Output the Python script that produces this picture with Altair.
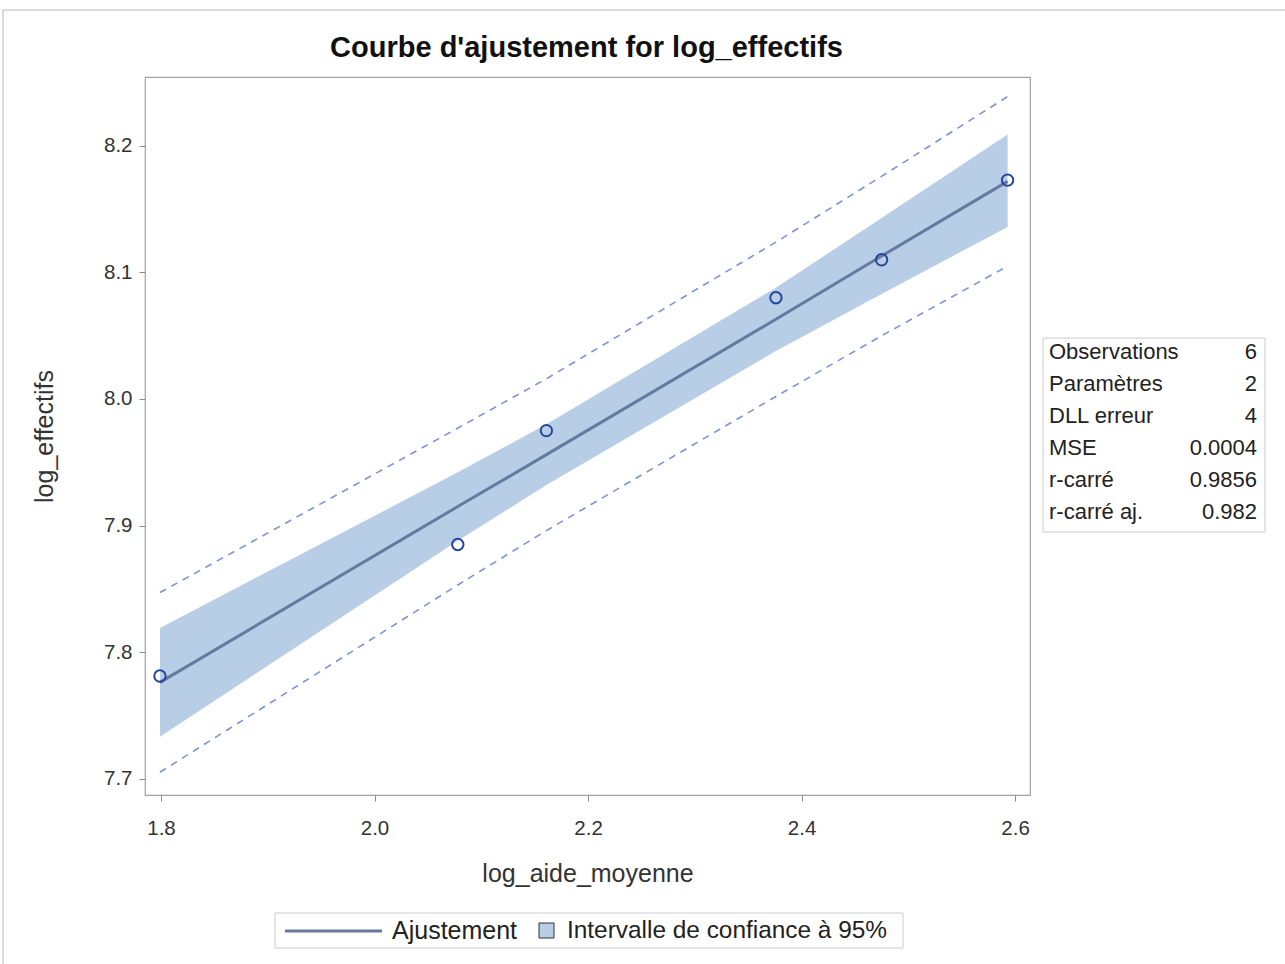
import altair as alt
import pandas as pd

# ---- data ----
obs_x = [1.799, 2.078, 2.161, 2.376, 2.475, 2.593]
obs_y = [7.781, 7.885, 7.975, 8.080, 8.110, 8.173]
fit_y = [7.776, 7.915, 7.956, 8.063, 8.113, 8.172]
clm_lo = [7.733, 7.888, 7.932, 8.038, 8.083, 8.136]
clm_hi = [7.819, 7.942, 7.980, 8.088, 8.143, 8.209]
pl_lo = [7.705, 7.853, 7.896, 8.002, 8.050, 8.105]
pl_hi = [7.847, 7.977, 8.016, 8.124, 8.176, 8.239]

x_ticks = [1.8, 2.0, 2.2, 2.4, 2.6]
y_ticks = [7.7, 7.8, 7.9, 8.0, 8.1, 8.2]

stat_labels = ["Observations", "Paramètres", "DLL erreur", "MSE", "r-carré", "r-carré aj."]
stat_values = ["6", "2", "4", "0.0004", "0.9856", "0.982"]

legend_labels = ["Ajustement", "Intervalle de confiance à 95%"]

title_text = "Courbe d'ajustement for log_effectifs"
x_title = "log_aide_moyenne"
y_title = "log_effectifs"

# ---- styles ----
FONT = "Liberation Sans"
BAND = "#b8cde6"
FIT = "#667a9f"
PL = "#7f92d6"
PT = "#2746a0"
TXT = "#222222"
W, H = 885, 718

df = pd.DataFrame({
    "x": obs_x, "y": obs_y, "fit": fit_y,
    "clm_lo": clm_lo, "clm_hi": clm_hi,
    "pl_lo": pl_lo, "pl_hi": pl_hi,
})

xs = alt.Scale(domain=[1.785, 2.614], nice=False, zero=False)
ys = alt.Scale(domain=[7.687, 8.2545], nice=False, zero=False)

xax = alt.Axis(values=x_ticks, format=".1f", title=x_title, grid=False, domain=False,
               tickSize=6, tickColor="#8c8c8c", labelPadding=17, titlePadding=23,
               labelFontSize=20.5, titleFontSize=25, labelColor="#333333", titleColor="#333333",
               labelFont=FONT, titleFont=FONT, titleFontWeight="normal")
yax = alt.Axis(values=y_ticks, format=".1f", title=y_title, grid=False, domain=False,
               tickSize=6, tickColor="#8c8c8c", labelPadding=7, titlePadding=46,
               labelFontSize=20.5, titleFontSize=25, labelColor="#333333", titleColor="#333333",
               labelFont=FONT, titleFont=FONT, titleFontWeight="normal")

base = alt.Chart(df)

band = base.mark_area(color=BAND, opacity=1).encode(
    x=alt.X("x:Q", scale=xs, axis=xax),
    y=alt.Y("clm_lo:Q", scale=ys, axis=yax),
    y2="clm_hi:Q",
)
fit = base.mark_line(color=FIT, strokeWidth=3).encode(x=alt.X("x:Q", scale=xs), y=alt.Y("fit:Q", scale=ys))
pl1 = base.mark_line(color=PL, strokeWidth=1.6, strokeDash=[7, 6]).encode(
    x=alt.X("x:Q", scale=xs), y=alt.Y("pl_lo:Q", scale=ys))
pl2 = base.mark_line(color=PL, strokeWidth=1.6, strokeDash=[7, 6]).encode(
    x=alt.X("x:Q", scale=xs), y=alt.Y("pl_hi:Q", scale=ys))
pts = base.mark_point(shape="circle", filled=False, color=PT, size=130, strokeWidth=2, opacity=1).encode(
    x=alt.X("x:Q", scale=xs), y=alt.Y("y:Q", scale=ys))

layers = [band, fit, pl1, pl2, pts]

one = pd.DataFrame({"a": [0]})

# ---- outer frame of the image ----
outer = alt.Chart(one).mark_rect(fill=None, stroke="#cfcfcf", strokeWidth=1.5).encode(
    x=alt.value(-142), x2=alt.value(1285 - 145 + 10), y=alt.value(-67), y2=alt.value(964 - 77 + 10))
layers.insert(0, outer)

# ---- title ----
title = alt.Chart(one).mark_text(align="center", baseline="middle", font=FONT, fontSize=29,
                                 fontWeight="bold", color="#111111", text=title_text).encode(
    x=alt.value(W / 2 - 1), y=alt.value(-29))
layers.append(title)

# ---- inset statistics table ----
tbl_box = alt.Chart(one).mark_rect(fill="white", stroke="#cccccc", strokeWidth=1).encode(
    x=alt.value(898), x2=alt.value(1120), y=alt.value(261), y2=alt.value(455))
layers.append(tbl_box)
for i, (lab, val) in enumerate(zip(stat_labels, stat_values)):
    yy = 275 + 32 * i
    layers.append(alt.Chart(one).mark_text(align="left", baseline="middle", font=FONT, fontSize=22,
                                           color=TXT, text=lab).encode(x=alt.value(904), y=alt.value(yy)))
    layers.append(alt.Chart(one).mark_text(align="right", baseline="middle", font=FONT, fontSize=22,
                                           color=TXT, text=val).encode(x=alt.value(1112), y=alt.value(yy)))

# ---- bottom legend ----
leg_box = alt.Chart(one).mark_rect(fill="white", stroke="#cccccc", strokeWidth=1).encode(
    x=alt.value(130), x2=alt.value(758), y=alt.value(836), y2=alt.value(871))
leg_line = alt.Chart(one).mark_rule(color=FIT, strokeWidth=3).encode(
    x=alt.value(140), x2=alt.value(237), y=alt.value(854))
leg_t1 = alt.Chart(one).mark_text(align="left", baseline="middle", font=FONT, fontSize=25,
                                  color=TXT, text=legend_labels[0]).encode(x=alt.value(247), y=alt.value(854))
leg_sq = alt.Chart(one).mark_rect(fill=BAND, stroke="#333333", strokeWidth=1).encode(
    x=alt.value(394), x2=alt.value(409), y=alt.value(846), y2=alt.value(861))
leg_t2 = alt.Chart(one).mark_text(align="left", baseline="middle", font=FONT, fontSize=24.4,
                                  color=TXT, text=legend_labels[1]).encode(x=alt.value(422), y=alt.value(854))
layers += [leg_box, leg_line, leg_t1, leg_sq, leg_t2]

chart = alt.layer(*layers).properties(
    width=W, height=H,
    autosize=alt.AutoSizeParams(type="none"),
    padding={"left": 145, "top": 77, "right": 255, "bottom": 169},
    background="white",
).configure_view(stroke="#a0a0a0", strokeWidth=1.2)

chart.save("out.html", embed_options={"renderer": "svg", "actions": False})
